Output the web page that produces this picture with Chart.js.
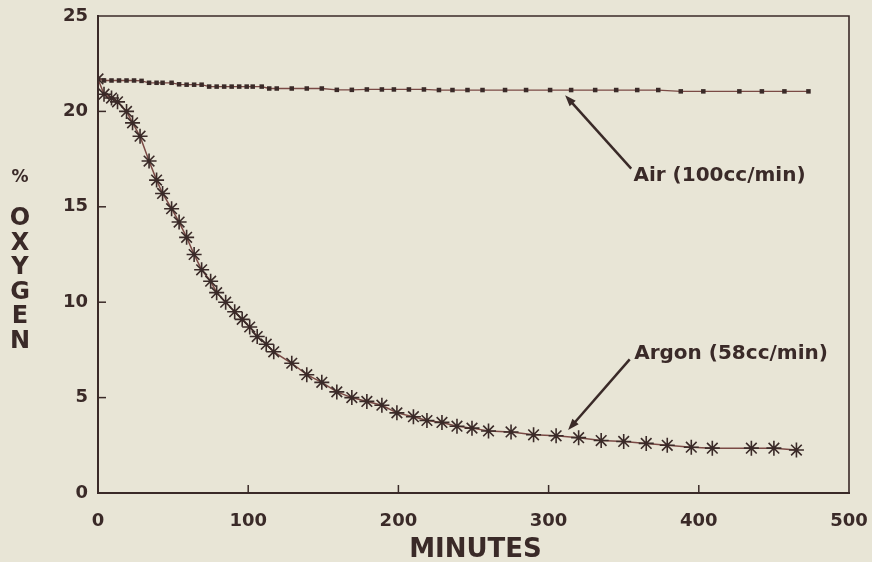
<!DOCTYPE html>
<html>
<head>
<meta charset="utf-8">
<script src="https://cdn.jsdelivr.net/npm/chart.js@4.4.1/dist/chart.umd.min.js"></script>
<style>
  html, body { margin: 0; padding: 0; background: #e8e5d6; }
  #wrap { width: 872px; height: 562px; }
</style>
</head>
<body>
<div id="wrap"><canvas id="chart" width="872" height="562"></canvas></div>
<script>
// --- Data ---
const airMinutes = [0, 4, 9, 14, 19, 24, 29, 34, 39, 43, 49, 54, 59, 64, 69, 74, 79, 84, 89, 94, 99, 103, 109, 114, 119,
  129, 139, 149, 159, 169, 179, 189, 197, 207, 217, 227, 236, 246, 256,
  271, 285, 301, 315, 331, 345, 359, 373, 388, 403, 427, 442, 457, 473];
const airOxygen = [21.7, 21.62, 21.62, 21.62, 21.62, 21.62, 21.6, 21.5, 21.5, 21.5, 21.5, 21.42, 21.4, 21.4, 21.4, 21.3, 21.3, 21.3, 21.3, 21.3, 21.3, 21.3, 21.3, 21.2, 21.2,
  21.2, 21.2, 21.2, 21.13, 21.13, 21.15, 21.15, 21.15, 21.15, 21.15, 21.12, 21.12, 21.12, 21.12,
  21.12, 21.12, 21.12, 21.12, 21.12, 21.12, 21.12, 21.12, 21.05, 21.05, 21.05, 21.05, 21.05, 21.05];

const argonMinutes = [0, 4, 9, 13, 19, 23, 28, 34, 39, 43, 49, 54, 59, 64, 69, 75, 79, 85, 91, 96, 101, 106, 112, 117,
  129, 139, 149, 159, 169, 179, 189, 199, 210, 219, 229, 239, 249, 260, 275, 290,
  305, 320, 335, 350, 365, 379, 395, 409, 435, 450, 465];
const argonOxygen = [21.7, 20.9, 20.7, 20.5, 20.0, 19.4, 18.7, 17.4, 16.4, 15.7, 14.9, 14.2, 13.4, 12.5, 11.7, 11.1, 10.5, 10.0, 9.5, 9.1, 8.7, 8.2, 7.8, 7.4,
  6.8, 6.2, 5.8, 5.3, 5.0, 4.8, 4.6, 4.2, 4.0, 3.8, 3.7, 3.5, 3.4, 3.25, 3.2, 3.05,
  3.0, 2.9, 2.75, 2.7, 2.6, 2.5, 2.4, 2.35, 2.35, 2.35, 2.25];

const xTicks = [0, 100, 200, 300, 400, 500];
const yTicks = [0, 5, 10, 15, 20, 25];

const ink = '#3a2a28';
const lineInk = '#7a4a45';
const paper = '#e8e5d6';
const font = '"DejaVu Sans", sans-serif';

const toPoints = (xs, ys) => xs.map((x, i) => ({ x: x, y: ys[i] }));

// --- Decorations: frame, inward ticks, titles, arrows ---
const decor = {
  id: 'decor',
  beforeDraw(chart) {
    const ctx = chart.ctx;
    ctx.save();
    ctx.fillStyle = paper;
    ctx.fillRect(0, 0, chart.width, chart.height);
    ctx.restore();
  },
  afterDraw(chart) {
    const ctx = chart.ctx;
    const a = chart.chartArea;
    const xs = chart.scales.x, ys = chart.scales.y;
    ctx.save();
    ctx.strokeStyle = ink;
    ctx.lineWidth = 1.6;
    // top and right frame
    ctx.beginPath();
    ctx.moveTo(a.left, a.top);
    ctx.lineTo(a.right, a.top);
    ctx.lineTo(a.right, a.bottom);
    ctx.stroke();

    // inward tick marks
    ctx.lineWidth = 1.5;
    xTicks.slice(1, -1).forEach(v => {
      const px = xs.getPixelForValue(v);
      ctx.beginPath();
      ctx.moveTo(px, a.bottom);
      ctx.lineTo(px, a.bottom - 8);
      ctx.stroke();
    });
    yTicks.slice(1, -1).forEach(v => {
      const py = ys.getPixelForValue(v);
      ctx.beginPath();
      ctx.moveTo(a.left, py);
      ctx.lineTo(a.left + 8, py);
      ctx.stroke();
    });

    // axis titles
    ctx.fillStyle = ink;
    ctx.textAlign = 'center';
    ctx.textBaseline = 'middle';
    ctx.font = 'bold 26px ' + font;
    ctx.fillText('MINUTES', (a.left + a.right) / 2 + 2, 550);

    ctx.font = 'bold 17px ' + font;
    ctx.fillText('%', 20, 178);
    ctx.font = 'bold 24px ' + font;
    const letters = 'OXYGEN'.split('');
    letters.forEach((ch, i) => ctx.fillText(ch, 20, 219 + i * 24.5));

    // annotations with arrows (data units)
    const arrow = (x0, y0, x1, y1) => {
      const p0 = [xs.getPixelForValue(x0), ys.getPixelForValue(y0)];
      const p1 = [xs.getPixelForValue(x1), ys.getPixelForValue(y1)];
      const ang = Math.atan2(p1[1] - p0[1], p1[0] - p0[0]);
      ctx.lineWidth = 2.5;
      ctx.beginPath();
      ctx.moveTo(p0[0], p0[1]);
      ctx.lineTo(p1[0] - 6 * Math.cos(ang), p1[1] - 6 * Math.sin(ang));
      ctx.stroke();
      ctx.beginPath();
      ctx.moveTo(p1[0], p1[1]);
      ctx.lineTo(p1[0] - 12 * Math.cos(ang - 0.35), p1[1] - 12 * Math.sin(ang - 0.35));
      ctx.lineTo(p1[0] - 12 * Math.cos(ang + 0.35), p1[1] - 12 * Math.sin(ang + 0.35));
      ctx.closePath();
      ctx.fill();
    };
    arrow(355, 17.0, 311, 20.85);
    arrow(354, 7.0, 313, 3.3);

    ctx.font = 'bold 20px ' + font;
    ctx.textAlign = 'left';
    ctx.fillText('Air (100cc/min)', xs.getPixelForValue(356.5), ys.getPixelForValue(16.6));
    ctx.fillText('Argon (58cc/min)', xs.getPixelForValue(357), ys.getPixelForValue(7.3));
    ctx.restore();
  }
};

new Chart(document.getElementById('chart'), {
  type: 'line',
  data: {
    datasets: [{
      label: 'Air (100cc/min)',
      data: toPoints(airMinutes, airOxygen),
      borderColor: lineInk,
      borderWidth: 1.3,
      pointStyle: 'rect',
      pointRadius: 3.2,
      pointBackgroundColor: ink,
      pointBorderColor: ink,
      pointBorderWidth: 0,
      tension: 0
    }, {
      label: 'Argon (58cc/min)',
      data: toPoints(argonMinutes, argonOxygen),
      borderColor: lineInk,
      borderWidth: 1.5,
      pointStyle: 'star',
      pointRadius: 7.5,
      pointBorderColor: ink,
      pointBorderWidth: 1.6,
      pointBackgroundColor: ink,
      tension: 0
    }]
  },
  options: {
    responsive: false,
    animation: false,
    layout: { padding: { top: 16, right: 23, left: 0, bottom: 0 } },
    plugins: {
      legend: { display: false },
      tooltip: { enabled: false }
    },
    scales: {
      x: {
        type: 'linear',
        min: 0,
        max: 500,
        afterBuildTicks: s => { s.ticks = xTicks.map(v => ({ value: v })); },
        afterFit: s => { s.height = 69; s.paddingLeft = 0; s.paddingRight = 0; },
        grid: { display: false, drawTicks: false },
        border: { display: true, color: ink, width: 2 },
        ticks: {
          color: ink,
          padding: 18,
          maxRotation: 0,
          font: { family: font, size: 18, weight: 'bold' }
        }
      },
      y: {
        type: 'linear',
        min: 0,
        max: 25,
        afterBuildTicks: s => { s.ticks = yTicks.map(v => ({ value: v })); },
        afterFit: s => { s.width = 98; s.paddingTop = 0; s.paddingBottom = 0; },
        grid: { display: false, drawTicks: false },
        border: { display: true, color: ink, width: 2 },
        ticks: {
          color: ink,
          padding: 10,
          font: { family: font, size: 18, weight: 'bold' }
        }
      }
    }
  },
  plugins: [decor]
});
</script>
</body>
</html>
